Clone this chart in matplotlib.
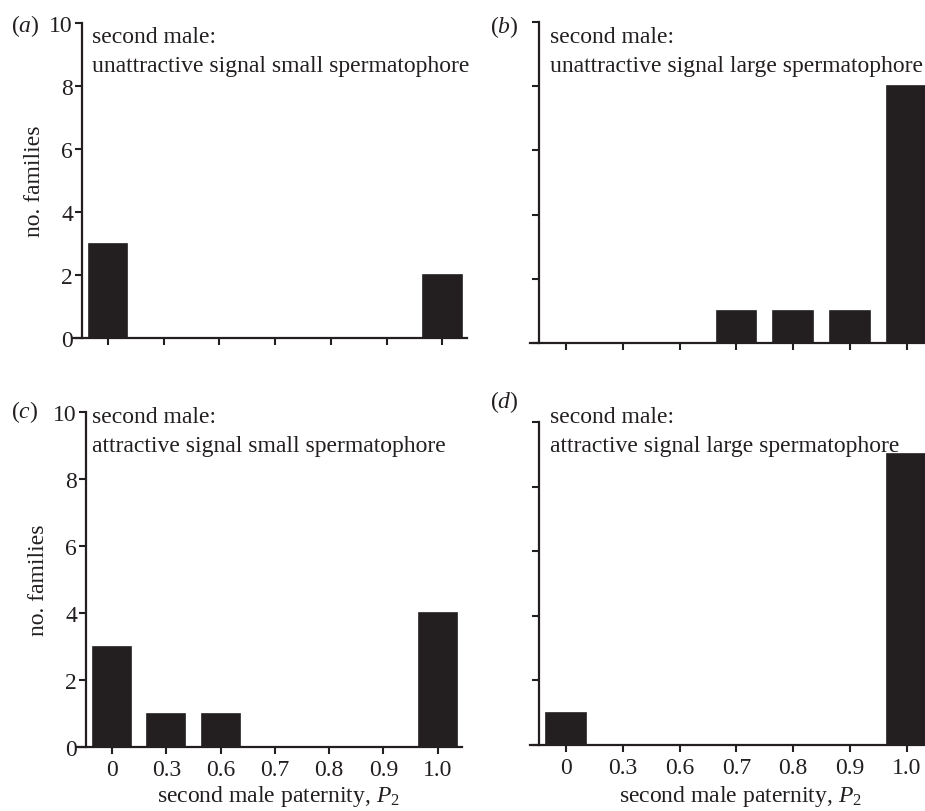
import numpy as np
import matplotlib
matplotlib.use("Agg")
import matplotlib.pyplot as plt

plt.rcParams['font.family'] = ['Liberation Serif', 'DejaVu Serif']
plt.rcParams['mathtext.fontset'] = 'custom'
plt.rcParams['mathtext.rm'] = 'Liberation Serif'
plt.rcParams['mathtext.it'] = 'Liberation Serif:italic'

INK = '#231f20'
FS = 17

# data
paternity = ['0', '0.3', '0.6', '0.7', '0.8', '0.9', '1.0']
counts_a = [3, 0, 0, 0, 0, 0, 2]
counts_b = [0, 0, 0, 1, 1, 1, 8]
counts_c = [3, 1, 1, 0, 0, 0, 4]
counts_d = [1, 0, 0, 0, 0, 0, 9]
letters = ['a', 'b', 'c', 'd']
signal = ['unattractive signal small spermatophore',
          'unattractive signal large spermatophore',
          'attractive signal small spermatophore',
          'attractive signal large spermatophore']

W, H = 925, 812
fig = plt.figure(figsize=(W / 100, H / 100), dpi=100)

# pixel layout per panel: x of axis start, x of first tick, tick spacing, y of 0, y of 10
layout = [
    (73, 108, 55.7, 339, 24),
    (530, 566, 56.8, 344, 23),
    (77, 112, 54.3, 748, 413),
    (530, 566, 56.8, 746, 423),
]
xlabel_center = [None, None, 278, 740]
xlabel_y = 797
x1_data = 6.45

panels = [counts_a, counts_b, counts_c, counts_d]
for i, (counts, (xs, xt0, dx, y0, y10)) in enumerate(zip(panels, layout)):
    left = xs / W
    xmin = (xs - xt0) / dx
    width = (x1_data - xmin) * dx / W
    bottom = (H - y0) / H
    height = (y0 - y10) / H
    ax = fig.add_axes([left, bottom, width, height])
    pos = np.arange(len(paternity))
    ax.bar(pos, counts, width=0.7, color=INK, edgecolor=INK, linewidth=1.2)
    ax.set_xlim(xmin, x1_data)
    ax.set_ylim(0, 10)
    ax.spines['top'].set_visible(False)
    ax.spines['right'].set_visible(False)
    ax.spines['left'].set_position(('data', xmin + 9 / dx))
    for s in ('left', 'bottom'):
        ax.spines[s].set_linewidth(1.6)
        ax.spines[s].set_color(INK)
    ax.set_yticks([0, 2, 4, 6, 8, 10])
    ax.set_xticks(pos)
    ax.tick_params(direction='out', length=5, width=1.5, colors=INK,
                   labelsize=FS)
    ax.tick_params(axis='y', pad=1.5)
    ax.tick_params(axis='x', pad=4)
    if i >= 2:
        ax.set_xticklabels(paternity)
        ax.set_xlabel(r'second male paternity, $P_2$', fontsize=FS, color=INK)
        ax.xaxis.set_label_coords((xlabel_center[i] - xs) / (width * W),
                                  (y0 - xlabel_y) / (y0 - y10),
                                  transform=ax.transAxes)
        ax.xaxis.label.set_va('center')
    else:
        ax.set_xticklabels([])
    if i % 2 == 0:
        ax.set_ylabel('no. families', fontsize=FS, color=INK, labelpad=3)
    else:
        ax.set_yticklabels([])
    ax.patch.set_alpha(0)

    # annotation lines in pixel coords
    tx = 92 if i % 2 == 0 else 550
    base1 = 43 if i < 2 else 423
    fig.text(tx / W, 1 - base1 / H, 'second male:', fontsize=FS, color=INK,
             va='baseline', ha='left')
    fig.text(tx / W, 1 - (base1 + 29) / H, signal[i], fontsize=FS, color=INK,
             va='baseline', ha='left')

# panel letters
label_pos = [(11, 26), (490, 27), (11, 412), (490, 402)]
for letter, (lx, ly) in zip(letters, label_pos):
    fig.text(lx / W, 1 - ly / H, '($' + letter + '$)', fontsize=FS, color=INK,
             va='center', ha='left')

fig.savefig('out.png', dpi=100)
